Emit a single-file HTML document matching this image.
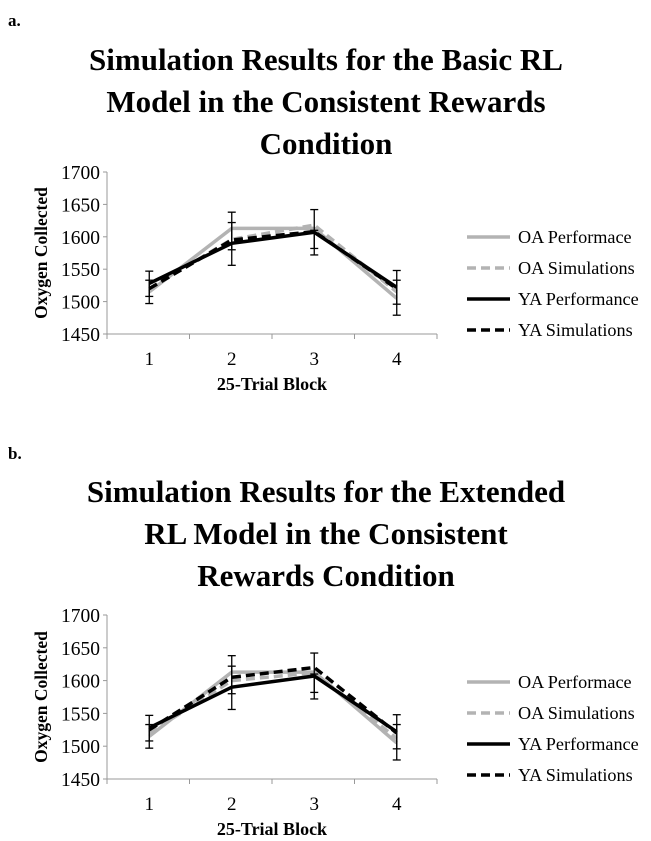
<!DOCTYPE html>
<html><head><meta charset="utf-8"><style>
body{margin:0;background:#fff;width:651px;height:841px;overflow:hidden;font-family:"Liberation Serif",serif;}
svg{display:block}
</style></head><body>
<svg id="s" width="651" height="841" xmlns="http://www.w3.org/2000/svg" font-family="Liberation Serif, serif">
<text x="8" y="26" font-size="17" font-weight="bold">a.</text>
<g font-size="31" font-weight="bold" text-anchor="middle">
<text x="326" y="70">Simulation Results for the Basic RL</text>
<text x="326" y="112">Model in the Consistent Rewards</text>
<text x="326" y="154">Condition</text></g>
<text x="8" y="459" font-size="17" font-weight="bold">b.</text>
<g font-size="31" font-weight="bold" text-anchor="middle">
<text x="326" y="502">Simulation Results for the Extended</text>
<text x="326" y="544">RL Model in the Consistent</text>
<text x="326" y="586">Rewards Condition</text></g>
</svg>
<script>
const categories=["1","2","3","4"];
const yTicks=[1450,1500,1550,1600,1650,1700];
const oaPerfA=[1515,1613,1613,1505];
const oaSimA=[1520,1596,1618,1515];
const yaPerfA=[1528,1590,1607,1522];
const yaSimA=[1520,1595,1608,1520];
const oaPerfB=[1515,1613,1613,1505];
const oaSimB=[1520,1600,1612,1512];
const yaPerfB=[1528,1590,1607,1522];
const yaSimB=[1525,1605,1620,1520];
const errLow1=[1497,1556,1572,1479];
const errHigh1=[1547,1638,1642,1548];
const errLow2=[1508,1580,1582,1496];
const errHigh2=[1533,1622,1610,1533];
const legendLabels=["OA Performace","OA Simulations","YA Performance","YA Simulations"];

const NS="http://www.w3.org/2000/svg";
const svg=document.getElementById('s');
function mk(tag,attrs,parent){const e=document.createElementNS(NS,tag);for(const k in attrs)e.setAttribute(k,attrs[k]);(parent||svg).appendChild(e);return e;}
const styles=[{stroke:"#b3b3b3",dash:""},{stroke:"#b3b3b3",dash:"9,5"},{stroke:"#000",dash:""},{stroke:"#000",dash:"9,5"}];

function chart(id,top,bottom,series,legendY){
  const g=mk('g',{});
  
  
  const x0=107,x1=437;
  const y=v=>bottom-(v-1450)/250*(bottom-top);
  const step=(x1-x0)/categories.length;
  const x=i=>x0+step*(i+0.5)+1;
  const ax=mk('g',{},g);
  
  
  mk('line',{x1:x0,y1:top,x2:x0,y2:bottom,stroke:"#999","stroke-width":1},ax);
  yTicks.forEach(t=>{
    mk('line',{x1:x0-4,y1:y(t),x2:x0,y2:y(t),stroke:"#999"},ax);
    const tx=mk('text',{x:x0-7,y:y(t)+7,"font-size":19.5,"text-anchor":"end"},ax);tx.textContent=t;
    
    
  });
  const xa=mk('g',{},g);
  
  
  mk('line',{x1:x0,y1:bottom,x2:x1,y2:bottom,stroke:"#999"},xa);
  for(let i=0;i<=categories.length;i++)mk('line',{x1:x0+step*i,y1:bottom,x2:x0+step*i,y2:bottom+5,stroke:"#999"},xa);
  categories.forEach((c,i)=>{const t=mk('text',{x:x(i),y:bottom+31,"font-size":19,"text-anchor":"middle"},xa);t.textContent=c;
    
    });
  const xt=mk('text',{x:272,y:bottom+56,"font-size":18,"font-weight":"bold","text-anchor":"middle"},g);xt.textContent="25-Trial Block";
  
  
  const cy=(top+bottom)/2;
  const yt=mk('text',{x:0,y:0,"font-size":17.5,"font-weight":"bold","text-anchor":"middle",transform:`translate(47,${cy}) rotate(-90)`},g);yt.textContent="Oxygen Collected";
  
  
  series.forEach((d,k)=>{
    const p=mk('polyline',{points:d.map((v,i)=>x(i)+","+y(v)).join(" "),fill:"none",stroke:styles[k].stroke,"stroke-width":3.5,"stroke-dasharray":styles[k].dash},g);
    
    
  });
  [[errLow1,errHigh1],[errLow2,errHigh2]].forEach(([lo,hi])=>{
    lo.forEach((l,i)=>{
      const eg=mk('g',{stroke:"#000","stroke-width":1.3},g);
      
      
      mk('line',{x1:x(i),y1:y(l),x2:x(i),y2:y(hi[i])},eg);
      mk('line',{x1:x(i)-4,y1:y(l),x2:x(i)+4,y2:y(l)},eg);
      mk('line',{x1:x(i)-4,y1:y(hi[i]),x2:x(i)+4,y2:y(hi[i])},eg);
    });
  });
  legendLabels.forEach((lab,k)=>{
    const lg=mk('g',{},g);
    
    
    const ly=legendY+k*31;
    mk('line',{x1:467,y1:ly,x2:510,y2:ly,stroke:styles[k].stroke,"stroke-width":3.5,"stroke-dasharray":styles[k].dash},lg);
    const t=mk('text',{x:518,y:ly+6,"font-size":18.2},lg);t.textContent=lab;
  });
}
chart('a',172,334,[oaPerfA,oaSimA,yaPerfA,yaSimA],237);
chart('b',615,779,[oaPerfB,oaSimB,yaPerfB,yaSimB],682);
</script>
</body></html>
